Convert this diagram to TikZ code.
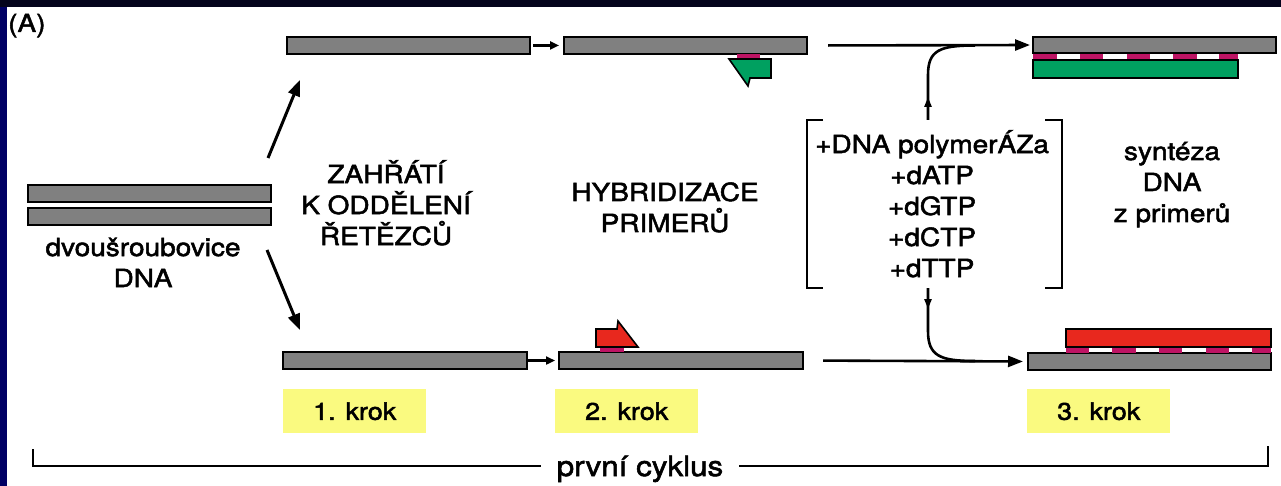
\documentclass[tikz,border=0pt]{standalone}
\usepackage{fontspec}
\setmainfont{TeX Gyre Heros}[FakeStretch=1.12, FakeBold=2]
\usetikzlibrary{arrows.meta,positioning}
\definecolor{strandgrey}{RGB}{128,128,128}
\definecolor{primergreen}{RGB}{0,160,96}
\definecolor{primerred}{RGB}{232,40,30}
\definecolor{bondpink}{RGB}{190,20,100}
\definecolor{krokyellow}{RGB}{250,250,128}
\definecolor{slidenavy}{RGB}{0,0,100}
\definecolor{slidedark}{RGB}{4,4,28}

\begin{document}
\begin{tikzpicture}[
			x=1pt, y=-1pt,
			Strand/.style={draw, line width=1.6pt, fill=strandgrey, minimum height=17pt,
				inner sep=0pt, outer sep=0pt, anchor=north west},
			KrokBox/.style={fill=krokyellow, minimum width=143pt, minimum height=44pt,
				inner sep=0pt, anchor=north west, font=\fontsize{24}{28}\selectfont},
			Caption/.style={align=center, anchor=base, inner sep=0pt,
				font=\fontsize{25}{31}\selectfont},
			BigArrow/.style={line width=3pt, -{Triangle[length=16pt, width=12pt]}},
			SmallArrow/.style={line width=2.6pt, -{Triangle[length=9pt, width=8pt]}},
			LongArrow/.style={line width=2.6pt, -{Triangle[length=15pt, width=11pt]}},
			]
			% slide frame
			\fill[slidenavy] (0,0) rectangle (1281,486);
			\fill[slidedark] (0,0) rectangle (1281,7);
			\fill[white] (7,7) rectangle (1281,486);
			\useasboundingbox (0,0) rectangle (1281,486);
			\node[anchor=base west, inner sep=0pt, font=\fontsize{25}{28}\selectfont] (panel) at (8,32) {(A)};

			% double helix
			\node[Strand, minimum width=243pt] (helixA) at (28,185) {};
			\node[Strand, minimum width=243pt] (helixB) at (28,208) {};
			\node[Caption] (helixTxt) at (143,287) {dvoušroubovice\\DNA};
			\coordinate (upFrom) at (268,158);
			\coordinate (upTo) at (300,80);
			\coordinate (downFrom) at (267,250);
			\coordinate (downTo) at (300,330);
			\draw[BigArrow] (upFrom) -- (upTo);
			\draw[BigArrow] (downFrom) -- (downTo);

			% step 1
			\node[Strand, minimum width=243pt] (upper1) at (287,37) {};
			\node[Strand, minimum width=244pt] (lower1) at (283,352) {};
			\node[Caption] (heatTxt) at (386,245) {ZAHŘÁTÍ\\K ODDĚLENÍ\\ŘETĚZCŮ};

			% step 2
			\node[Strand, minimum width=243pt] (upper2) at (564,37) {};
			\node[Strand, minimum width=244pt] (lower2) at (559,352) {};
			\draw[SmallArrow, shorten <=3pt, shorten >=5pt] (upper1.east) -- (upper2.west);
			\draw[SmallArrow, shorten <=1pt, shorten >=4pt] (lower1.east) -- (lower2.west);
			\fill[bondpink] (737,54) rectangle (760,59);
			\draw[line width=1.6pt, fill=primergreen] (729,59) -- (771,59) -- (771,78)
				-- (750,78) -- (748,86) -- cycle;
			\fill[bondpink] (600,346) rectangle (624,352);
			\draw[line width=1.6pt, fill=primerred] (596,329) -- (617,329) -- (618,321)
				-- (638,347) -- (596,347) -- cycle;
			\node[Caption] (hybTxt) at (665,232) {HYBRIDIZACE\\PRIMERŮ};

			% reaction mix
			\node[Caption] (mixTxt) at (932,277) {+DNA polymerÁZa\\+dATP\\+dGTP\\+dCTP\\+dTTP};
			\draw[line width=2pt] (823,120) -- (807,120) -- (807,288) -- (823,288);
			\draw[line width=2pt] (1045,120) -- (1062,120) -- (1062,288) -- (1045,288);
			\coordinate (mixTop) at (928,120);
			\coordinate (mixBot) at (928,288);

			% step 3
			\node[Strand, minimum width=243pt, minimum height=16pt] (upper3) at (1033,37) {};
			\node[Strand, minimum width=205pt, minimum height=18pt, fill=primergreen] (newGreen) at (1033,60) {};
			\foreach \x/\w in {1033/24,1080/23,1127/23,1173/24,1219/19}
				\fill[bondpink] (\x,54) rectangle ++(\w,5);
			\node[Strand, minimum width=243pt] (lower3) at (1028,353) {};
			\node[Strand, minimum width=205pt, minimum height=18pt, fill=primerred] (newRed) at (1066,329) {};
			\foreach \x/\w in {1066/23,1112/24,1159/23,1206/23,1252/19}
				\fill[bondpink] (\x,347.5) rectangle ++(\w,5);
			\draw[LongArrow, shorten <=21pt, shorten >=3pt] (upper2.east) -- (upper3.west);
			\draw[LongArrow, shorten <=20pt, shorten >=5pt] (lower2.east) -- (lower3.west);
			\draw[line width=2.6pt] (mixTop) -- (928,75) .. controls (928,50) and (940,45.5) .. (975,45.5);
			\draw[line width=2.6pt] (mixBot) -- (928,331) .. controls (928,356) and (940,361) .. (975,361);
			\draw[line width=2.6pt, -{Triangle[length=10pt, width=7pt]}] (mixTop) -- (928,97);
			\draw[line width=2.6pt, -{Triangle[length=10pt, width=7pt]}] (mixBot) -- (928,309);
			\node[Caption] (synTxt) at (1172,222) {syntéza\\DNA\\z primerů};

			% step labels
			\node[KrokBox] (krok1) at (283,389) {1. krok};
			\node[KrokBox] (krok2) at (555,389) {2. krok};
			\node[KrokBox] (krok3) at (1027,389) {3. krok};

			% cycle bracket
			\node[anchor=base, inner xsep=16pt, inner ysep=0pt, font=\fontsize{28}{30}\selectfont] (cycleTxt) at (640,476) {první cyklus};
			\coordinate (leftTick) at (33,449);
			\coordinate (rightTick) at (1268,446);
			\draw[line width=1.6pt] (leftTick) -- (33,466) -- (cycleTxt.west |- 0,466);
			\draw[line width=1.6pt] (rightTick) -- (1268,466) -- (cycleTxt.east |- 0,466);
		\end{tikzpicture}
\end{document}
